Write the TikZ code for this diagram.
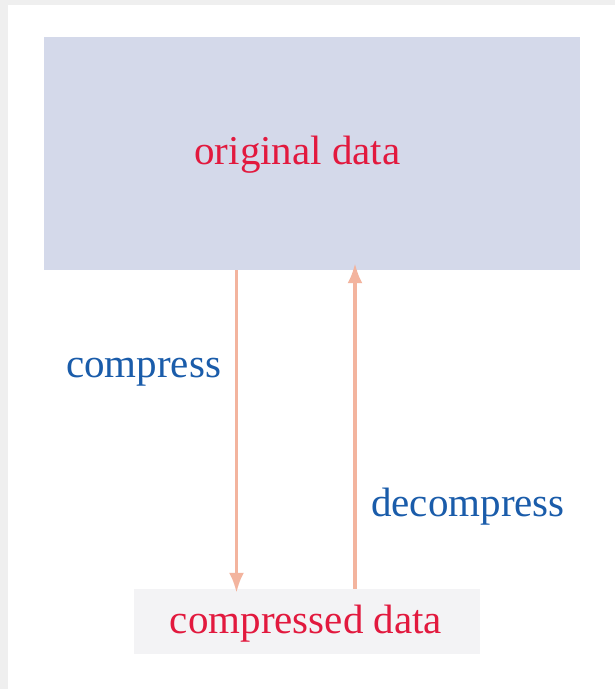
\documentclass[tikz,border=0pt]{standalone}
\usepackage{fontspec}
\setmainfont{Liberation Serif}
\usetikzlibrary{arrows.meta}
\definecolor{framegray}{HTML}{EFEFEF}
\definecolor{topfill}{HTML}{D4D9EA}
\definecolor{botfill}{HTML}{F3F3F5}
\definecolor{datared}{HTML}{E2193E}
\definecolor{opblue}{HTML}{1A5CAA}
\definecolor{arrowsalmon}{HTML}{F3B49E}
\tikzset{
  box/.style={draw=none, inner sep=0pt, anchor=center},
  datalabel/.style={text=datared, anchor=base, inner sep=0pt, font=\fontsize{41}{48}\selectfont},
  oplabel/.style={text=opblue, anchor=base west, inner sep=0pt, font=\fontsize{41}{48}\selectfont},
  flow/.style={draw=arrowsalmon, line width=3.5pt, -{Latex[length=20pt,width=15pt]}}
}
\begin{document}
\begin{tikzpicture}[x=1pt,y=1pt]
\useasboundingbox (0,0) rectangle (615,689);
\fill[framegray] (0,0) rectangle (615,689);
\fill[white] (8,0) rectangle (615,684);
\node[box, fill=topfill, minimum width=536pt, minimum height=233pt] (orig) at (312,535.5) {};
\node[box, fill=botfill, minimum width=346pt, minimum height=65pt] (comp) at (307,67.5) {};
\node[datalabel] (origtext) at (297.5,524) {original data};
\node[datalabel] (comptext) at (306,55) {compressed data};
\node[oplabel] (compress) at (66,311) {compress};
\node[oplabel] (decompress) at (371,172) {decompress};
\draw[flow, shorten >=-4pt] ([xshift=-75.5pt]orig.south) -- ([xshift=-75.5pt]orig.south |- comp.north);
\draw[flow, shorten >=-7pt] ([xshift=48pt]comp.north) -- ([xshift=48pt]comp.north |- orig.south);
\end{tikzpicture}
\end{document}
